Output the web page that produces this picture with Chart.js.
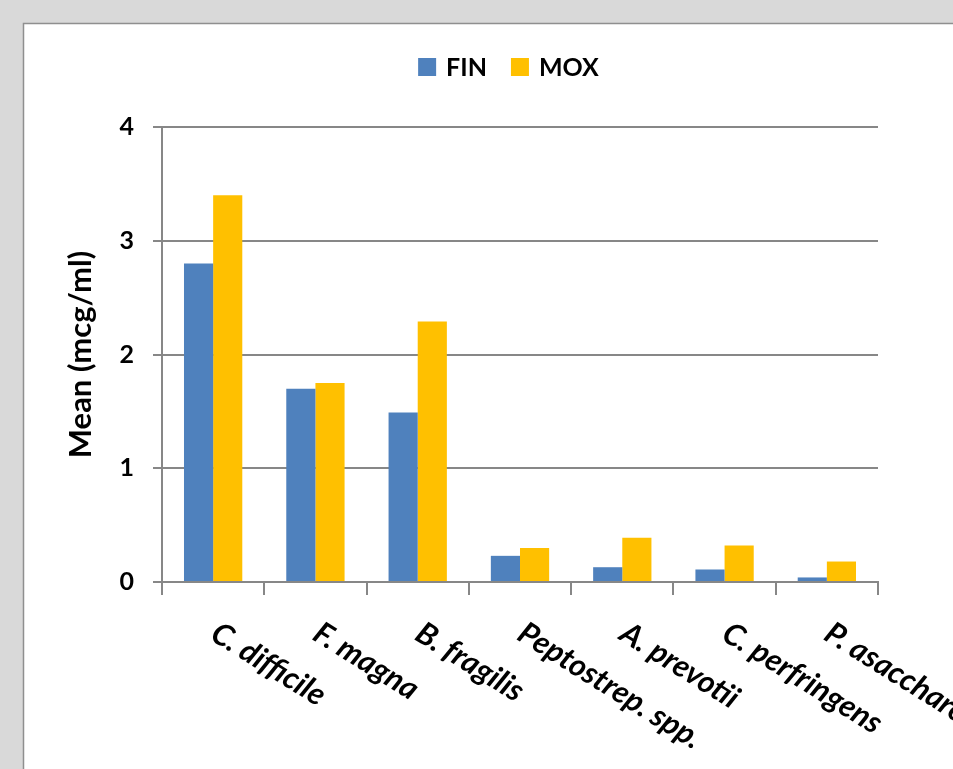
<!DOCTYPE html>
<html>
<head>
<meta charset="utf-8">
<script src="https://cdn.jsdelivr.net/npm/chart.js@4.4.1/dist/chart.umd.min.js"></script>
<style>
  html, body { margin: 0; padding: 0; background: #d9d9d9; overflow: hidden; }
  #c { position: absolute; left: 0; top: 0; }
</style>
</head>
<body>
<canvas id="c" width="953" height="769"></canvas>
<script>
// Organisms tested
const categories = ['C. difficile', 'F. magna', 'B. fragilis', 'Peptostrep. spp.', 'A. prevotii', 'C. perfringens', 'P. asaccharolyticus'];
// Mean MIC values (mcg/ml)
const finValues = [2.8, 1.7, 1.49, 0.23, 0.13, 0.11, 0.04];
const moxValues = [3.4, 1.75, 2.29, 0.30, 0.39, 0.32, 0.18];
const seriesNames = ['FIN', 'MOX'];
const yTicks = [0, 1, 2, 3, 4];

const FONT = 'Lato, "Open Sans", sans-serif';
const GRID = '#878787';

// Gray page with a white framed panel behind the chart
const panelPlugin = {
  id: 'panel',
  beforeDraw(chart) {
    const ctx = chart.ctx;
    ctx.save();
    ctx.fillStyle = '#d9d9d9';
    ctx.fillRect(0, 0, chart.width, chart.height);
    ctx.fillStyle = '#ffffff';
    ctx.fillRect(24, 24, chart.width, chart.height);
    ctx.strokeStyle = '#8f8f8f';
    ctx.lineWidth = 1.5;
    ctx.strokeRect(23.5, 23.5, chart.width + 10, chart.height + 10);
    ctx.restore();
  }
};

// Legend row centred above the plot
const legendPlugin = {
  id: 'topLegend',
  afterDraw(chart) {
    const ctx = chart.ctx;
    ctx.save();
    ctx.font = 'bold 25px ' + FONT;
    ctx.textBaseline = 'middle';
    const box = 18, gapBox = 10, gapItem = 24;
    const items = chart.data.datasets.map(ds => ({ text: ds.label, color: ds.backgroundColor, w: ctx.measureText(ds.label).width }));
    let total = 0;
    items.forEach((it, i) => { total += box + gapBox + it.w + (i ? gapItem : 0); });
    let x = 508.5 - total / 2;
    const y = 67;
    items.forEach((it, i) => {
      if (i) x += gapItem;
      ctx.fillStyle = it.color;
      ctx.fillRect(x, y - box / 2, box, box);
      x += box + gapBox;
      ctx.fillStyle = '#000';
      ctx.fillText(it.text, x, y + 1);
      x += it.w;
    });
    ctx.restore();
  }
};

// Slanted category labels hanging below the axis
const slantLabels = {
  id: 'slantLabels',
  afterDraw(chart) {
    const scale = chart.scales.x;
    const ctx = chart.ctx;
    ctx.save();
    ctx.font = 'italic bold 31px ' + FONT;
    ctx.fillStyle = '#000';
    ctx.textAlign = 'left';
    ctx.textBaseline = 'top';
    chart.data.labels.forEach((lab, i) => {
      const x = scale.getPixelForTick(i);
      ctx.save();
      ctx.translate(x + 9, scale.top + 35);
      ctx.rotate(32 * Math.PI / 180);
      ctx.fillText(lab, 0, 0);
      ctx.restore();
    });
    ctx.restore();
  }
};

new Chart(document.getElementById('c'), {
  type: 'bar',
  data: {
    labels: categories,
    datasets: [
      { label: seriesNames[0], data: finValues, backgroundColor: '#4f81bd', borderWidth: 0 },
      { label: seriesNames[1], data: moxValues, backgroundColor: '#ffc000', borderWidth: 0 }
    ]
  },
  options: {
    responsive: false,
    devicePixelRatio: 1,
    animation: false,
    layout: { padding: { top: 127, left: 0, right: 75, bottom: 0 } },
    datasets: { bar: { barPercentage: 1, categoryPercentage: 0.57 } },
    plugins: { legend: { display: false }, tooltip: { enabled: false } },
    scales: {
      x: {
        afterFit(s) { s.height = 187; },
        grid: { offset: true, drawOnChartArea: false, drawTicks: true, tickLength: 13, color: GRID, lineWidth: 2 },
        border: { color: GRID, width: 2 },
        ticks: { display: false }
      },
      y: {
        min: 0, max: 4,
        afterFit(s) { s.width = 162; },
        afterBuildTicks(s) { s.ticks = yTicks.map(v => ({ value: v })); },
        grid: { color: GRID, lineWidth: 2, tickLength: 9 },
        border: { color: GRID, width: 2 },
        ticks: { color: '#000', font: { family: FONT, size: 25, weight: 'bold' }, padding: 19 },
        title: { display: true, text: 'Mean (mcg/ml)', color: '#000', font: { family: FONT, size: 31, weight: 'bold' }, padding: { top: 62, bottom: 0 } }
      }
    }
  },
  plugins: [panelPlugin, legendPlugin, slantLabels]
});
</script>
</body>
</html>
